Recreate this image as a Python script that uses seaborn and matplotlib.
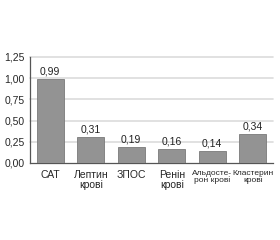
import matplotlib
matplotlib.use("Agg")
import matplotlib.pyplot as plt
import seaborn as sns
import pandas as pd
from matplotlib.ticker import FixedLocator

# data
categories = ["САТ", "Лептин\nкрові", "ЗПОС", "Ренін\nкрові", "Альдосте-\nрон крові", "Кластерин\nкрові"]
values = [0.99, 0.31, 0.19, 0.16, 0.14, 0.34]
labels = ["0,99", "0,31", "0,19", "0,16", "0,14", "0,34"]
yticks = [0, 0.25, 0.5, 0.75, 1.0, 1.25]
ytick_labels = ["0,00", "0,25", "0,50", "0,75", "1,00", "1,25"]

df = pd.DataFrame({"cat": categories, "val": values})

sns.set_style("white")
plt.rcParams['font.family'] = ['Liberation Sans', 'DejaVu Sans']

fig = plt.figure(figsize=(2.8, 2.4), dpi=100)
ax = fig.add_axes([30/280, 1 - 163/240, 243/280, 106/240])

sns.barplot(data=df, x="cat", y="val", color="#939393", width=0.67,
            edgecolor="#7a7a7a", linewidth=0.6, saturation=1, ax=ax, zorder=3)

ax.set_ylim(0, 1.25)
ax.set_xlim(-0.5, len(categories) - 0.5)
ax.set_yticks(yticks)
ax.set_yticklabels(ytick_labels, fontsize=7.5)
for y in yticks[1:]:
    ax.axhline(y, color="#dcdcdc", lw=1.2, zorder=1, clip_on=False)

ax.set_xticks(range(len(categories)))
ax.set_xticklabels(categories, fontsize=7.5, linespacing=0.95)
# the last two labels are set narrower in the original
for t in ax.get_xticklabels()[4:]:
    t.set_fontsize(6)
ax.tick_params(axis="x", length=0, pad=5)
ax.xaxis.set_minor_locator(FixedLocator([i + 0.5 for i in range(len(categories))]))
ax.tick_params(axis="x", which="minor", length=4, direction="inout", color="#444444", width=0.8)
ax.tick_params(axis="y", length=4, direction="inout", color="#444444", width=0.8, pad=2)

for i, (v, lab) in enumerate(zip(values, labels)):
    ax.text(i, v + 0.03, lab, ha="center", va="bottom", fontsize=7.5, color="#222222", clip_on=False)

ax.set_xlabel("")
ax.set_ylabel("")
for s in ["top", "right"]:
    ax.spines[s].set_visible(False)
for s in ["left", "bottom"]:
    ax.spines[s].set_color("#555555")
    ax.spines[s].set_linewidth(0.9)

fig.savefig("out.png", dpi=100)
